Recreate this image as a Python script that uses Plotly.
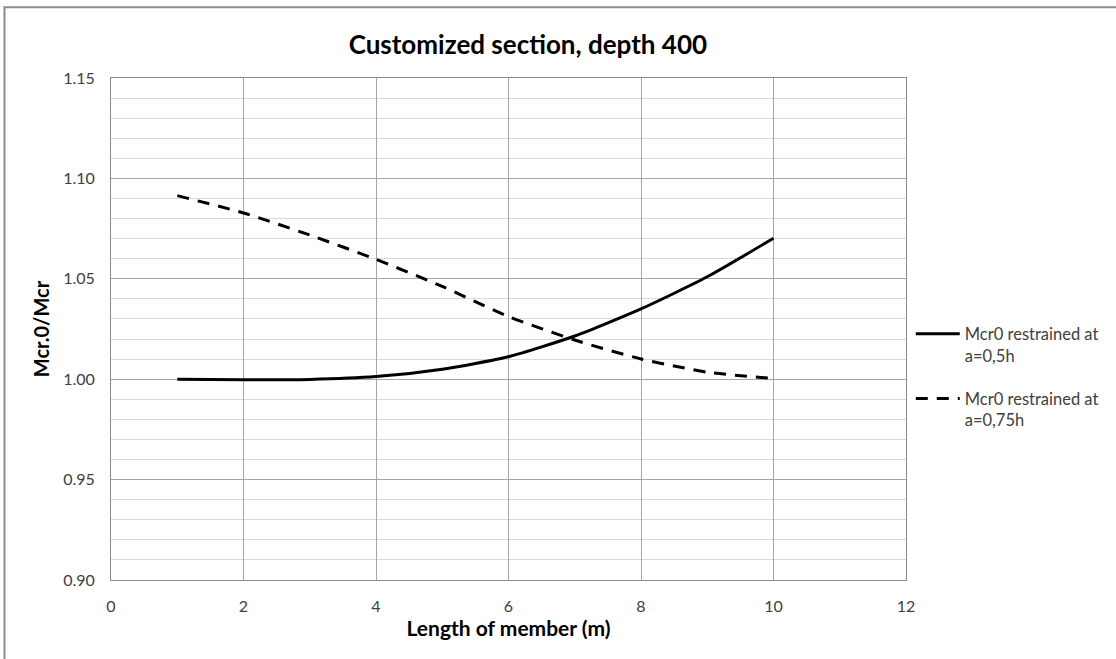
import plotly.graph_objects as go

# Member length (m)
length_m = [1, 2, 3, 4, 5, 6, 7, 8, 9, 10]

# Mcr.0/Mcr ratio for the two restraint positions
ratio_a050h = [1.0000, 0.9997, 0.9999, 1.0013, 1.0050, 1.0112, 1.0215, 1.0350, 1.0510, 1.0702]
ratio_a075h = [1.0914, 1.0828, 1.0718, 1.0597, 1.0462, 1.0312, 1.0195, 1.0101, 1.0035, 1.0003]

series_names = ["Mcr0 restrained at<br>a=0,5h", "Mcr0 restrained at<br>a=0,75h"]

x_ticks = [0, 2, 4, 6, 8, 10, 12]
y_ticks = [0.90, 0.95, 1.00, 1.05, 1.10, 1.15]

FONT = "Lato, 'Open Sans', sans-serif"

fig = go.Figure()
fig.add_trace(go.Scatter(
    x=length_m, y=ratio_a050h, mode="lines", name=series_names[0],
    line=dict(color="black", width=3, shape="spline", smoothing=0.6),
    legendgroup="a",
))
fig.add_trace(go.Scatter(
    x=length_m, y=ratio_a075h, mode="lines", name=series_names[1],
    line=dict(color="black", width=3, dash="12px,9px", shape="spline", smoothing=0.6),
    legendgroup="b",
))

fig.update_layout(
    width=1116, height=659,
    margin=dict(l=111, r=210, t=78, b=79),
    paper_bgcolor="white", plot_bgcolor="white",
    font=dict(family=FONT, color="#404040", size=15),
    title=dict(text="<b>Customized section, depth 400</b>", x=0.473, xanchor="center",
               y=0.932, yanchor="middle",
               font=dict(family=FONT, size=26, color="black")),
    showlegend=True,
    legend=dict(x=1.006, xanchor="left", y=0.525, yanchor="top", valign="top",
                font=dict(family=FONT, size=16.5, color="#404040"),
                tracegroupgap=19, itemwidth=44, bgcolor="rgba(0,0,0,0)"),
    xaxis=dict(
        range=[0, 12], tickvals=x_ticks, ticktext=[str(v) for v in x_ticks],
        showgrid=True, gridcolor="#a6a6a6", gridwidth=1,
        showline=True, linecolor="#8c8c8c", linewidth=1, mirror=True,
        zeroline=False, ticks="", ticklabelstandoff=12,
        tickfont=dict(size=16),
        title=dict(text="<b>Length of member (m)</b>", standoff=6,
                   font=dict(family=FONT, size=21, color="black")),
    ),
    yaxis=dict(
        range=[0.90, 1.15], tickvals=y_ticks, ticktext=[f"{v:.2f}" for v in y_ticks],
        showgrid=True, gridcolor="#a6a6a6", gridwidth=1,
        minor=dict(dtick=0.01, tick0=0.90, showgrid=True, gridcolor="#d9d9d9", gridwidth=1),
        showline=True, linecolor="#8c8c8c", linewidth=1, mirror=True,
        zeroline=False, ticks="", ticklabelstandoff=12,
        tickfont=dict(size=16),
        title=dict(text="<b>Mcr.0/Mcr</b>", standoff=8,
                   font=dict(family=FONT, size=20, color="black")),
    ),
)

# Chart-area frame
fig.add_shape(type="rect", xref="paper", yref="paper",
              x0=-0.134, x1=3, y0=-2, y1=1.141,
              line=dict(color="#8c8c8c", width=2), fillcolor="rgba(0,0,0,0)", layer="below")

fig.write_html("out.html")
